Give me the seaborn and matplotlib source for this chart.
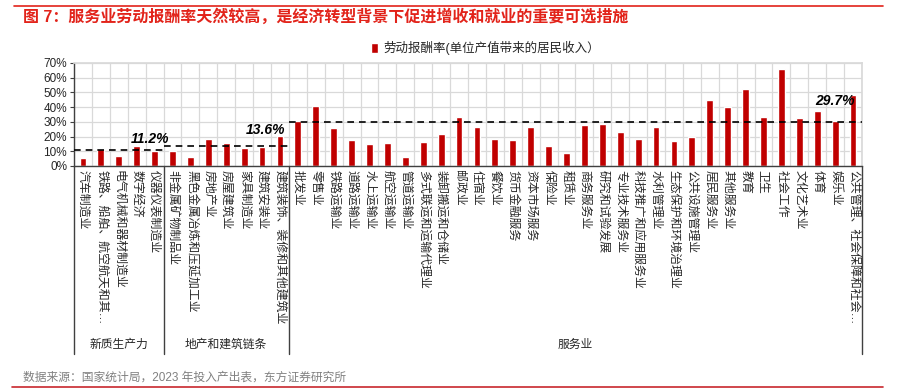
import numpy as np
import pandas as pd
import matplotlib.pyplot as plt
import seaborn as sns
from matplotlib.lines import Line2D
from matplotlib.ticker import PercentFormatter

# 行业名称（按组排列）
categories = [
    '汽车制造业', '铁路、船舶、航空航天和其…', '电气机械和器材制造业', '数字经济', '仪器仪表制造业',
    '非金属矿物制品业', '黑色金属冶炼和压延加工业', '房地产业', '房屋建筑业', '家具制造业', '建筑安装业',
    '建筑装饰、装修和其他建筑业',
    '批发业', '零售业', '铁路运输业', '道路运输业', '水上运输业', '航空运输业', '管道运输业',
    '多式联运和运输代理业', '装卸搬运和仓储业', '邮政业', '住宿业', '餐饮业', '货币金融服务', '资本市场服务',
    '保险业', '租赁业', '商务服务业', '研究和试验发展', '专业技术服务业', '科技推广和应用服务业', '水利管理业',
    '生态保护和环境治理业', '公共设施管理业', '居民服务业', '其他服务业', '教育', '卫生', '社会工作',
    '文化艺术业', '体育', '娱乐业', '公共管理、社会保障和社会…',
]
# 劳动报酬率
values = [
    0.055, 0.114, 0.066, 0.139, 0.100,
    0.100, 0.059, 0.182, 0.153, 0.123, 0.130, 0.205,
    0.305, 0.409, 0.257, 0.174, 0.147, 0.153, 0.061, 0.160, 0.219, 0.330, 0.264, 0.181,
    0.174, 0.264, 0.133, 0.088, 0.278, 0.284, 0.233, 0.185, 0.264, 0.167, 0.199, 0.447,
    0.402, 0.526, 0.332, 0.657, 0.323, 0.375, 0.309, 0.481,
]
groups = ['新质生产力', '地产和建筑链条', '服务业']
group_sizes = [5, 7, 32]
group_avgs = [0.112, 0.136, 0.297]

legend_label = '劳动报酬率(单位产值带来的居民收入）'
title = '图 7：服务业劳动报酬率天然较高，是经济转型背景下促进增收和就业的重要可选措施'
source = '数据来源：国家统计局，2023 年投入产出表，东方证券研究所'

df = pd.DataFrame({'category': categories, 'value': values})

sns.set_theme(style='white')
plt.rcParams['font.family'] = ['Liberation Sans', 'Noto Sans CJK SC', 'DejaVu Sans']
plt.rcParams['axes.unicode_minus'] = False

red = '#C00000'
grid_c = '#D9D9D9'

fig = plt.figure(figsize=(8.99, 3.9), dpi=100)
ax = fig.add_axes([0.0823, 0.5744, 0.8765, 0.2641])

sns.barplot(data=df, x='category', y='value', color=red, saturation=1,
            width=0.38, ax=ax, label=legend_label)

n = len(categories)
ax.set_xlim(-0.5, n - 0.5)
ax.set_ylim(0, 0.7)
ax.set_yticks(np.arange(0, 0.71, 0.1))
ax.yaxis.set_major_formatter(PercentFormatter(1.0, decimals=0))
ax.set_xticks(range(n))
ax.set_xticklabels(categories, rotation=270, fontsize=8.6, va='top', ha='center')
ax.set_xticks(np.arange(-0.5, n, 1), minor=True)
ax.tick_params(axis='x', which='both', length=0, pad=3)
ax.tick_params(axis='y', length=3, width=0.8, color='#404040', labelsize=8.5, pad=2, left=True)
ax.set_xlabel('')
ax.set_ylabel('')

ax.yaxis.grid(True, color=grid_c, lw=0.9)
ax.xaxis.grid(True, which='minor', color=grid_c, lw=0.9)
ax.xaxis.grid(False, which='major')
ax.set_axisbelow(True)

for s in ['top', 'right']:
    ax.spines[s].set_color(grid_c)
for s in ['left', 'bottom']:
    ax.spines[s].set_color('#404040')
    ax.spines[s].set_linewidth(1.0)

# 分组平均线与分隔线
bounds = np.concatenate([[0], np.cumsum(group_sizes)]) - 0.5
for i, avg in enumerate(group_avgs):
    ax.hlines(avg, bounds[i], bounds[i + 1], colors='black',
              linestyles=(0, (4, 3)), lw=1.2, zorder=3)

xt = ax.get_xaxis_transform()
for b in bounds:
    ax.plot([b, b], [0, -1.83], transform=xt, color='#404040', lw=1.0, clip_on=False)
for i, g in enumerate(groups):
    ax.text((bounds[i] + bounds[i + 1]) / 2, -1.74, g, transform=xt,
            ha='center', va='center', fontsize=8.5, color='#262626')

# 平均值标注
label_pos = [(3.75, 0.184), (10.2, 0.245), (42.0, 0.442)]
for (x, y), avg in zip(label_pos, group_avgs):
    ax.text(x, y, f'{avg * 100:.1f}%', ha='center', va='center', fontsize=10,
            fontweight='bold', fontstyle='italic', color='black')

ax.legend(loc='center', bbox_to_anchor=(0.54, 1 - 48 / 390), bbox_transform=fig.transFigure,
          frameon=False, fontsize=9, handlelength=0.6, handleheight=0.9, handletextpad=0.4)

# 标题、来源和装饰线
fig.text(23 / 899, 1 - 17 / 390, title, color='#E2231A', fontsize=11.5,
         fontweight='bold', va='center', ha='left')
fig.add_artist(Line2D([14 / 899, 883 / 899], [1 - 6 / 390] * 2, color='#E2231A', lw=1.2))
fig.text(23 / 899, 1 - 378 / 390, source, color='#808080', fontsize=8.5, va='center', ha='left')
fig.add_artist(Line2D([12 / 899, 883 / 899], [1 - 387 / 390] * 2, color='#C8282D', lw=1.2))

fig.savefig('out.png', dpi=100)
